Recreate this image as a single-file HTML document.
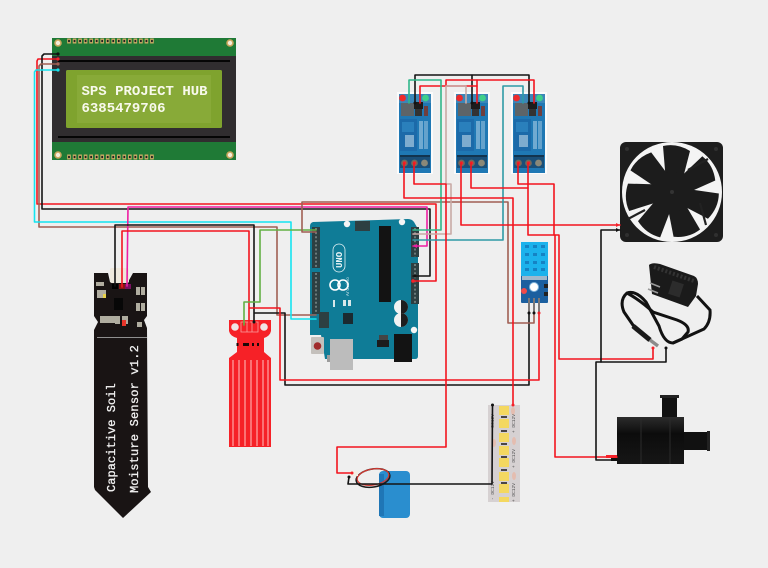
<!DOCTYPE html>
<html><head><meta charset="utf-8"><style>
html,body{margin:0;padding:0;background:#efefef;width:768px;height:568px;overflow:hidden}
svg{display:block}
text{font-family:"Liberation Mono",monospace}
.w{fill:none;stroke-width:1.6;stroke-linejoin:round;stroke-linecap:round}
.r{stroke:#f3141e}.k{stroke:#141414}.b{stroke:#a05f54}.c{stroke:#14e4f0}.p{stroke:#ee1ea2}.g{stroke:#62b044}
</style></head><body>
<svg width="768" height="568" viewBox="0 0 768 568" xmlns="http://www.w3.org/2000/svg">
<defs>
<g id="relay">
<rect x="0" y="0" width="36" height="82" fill="#fbfbfb"/>
<rect x="2" y="2" width="32" height="79" fill="#1f78b4"/>
<rect x="2" y="2" width="32" height="9" fill="#3b86b8"/>
<circle cx="5.5" cy="6" r="3.4" fill="#ee2a2a"/>
<circle cx="28.5" cy="6" r="3.4" fill="#3fd08a"/>
<rect x="4" y="11" width="13" height="13" fill="#5d6468"/>
<rect x="17" y="10" width="9" height="7" fill="#1c1c1c"/>
<rect x="18" y="17" width="7" height="7" fill="#333"/>
<rect x="27" y="14" width="4" height="10" fill="#6f3f3f"/>
<rect x="3" y="27" width="17" height="32" fill="#1c6aa9"/>
<rect x="5" y="30" width="12" height="10" fill="#2a80bc"/>
<rect x="8" y="43" width="9" height="12" fill="#cfe2ee" opacity=".55"/>
<rect x="22" y="29" width="4" height="28" fill="#9cc5e0" opacity=".65"/>
<rect x="27" y="29" width="4" height="28" fill="#9cc5e0" opacity=".55"/>
<rect x="3" y="63" width="30" height="2" fill="#12344f"/>
<rect x="3" y="65" width="30" height="11" fill="#1a4f78"/>
<circle cx="7.5" cy="71" r="3.4" fill="#6d6a5e"/><circle cx="17.5" cy="71" r="3.4" fill="#6d6a5e"/><circle cx="27.5" cy="71" r="3.4" fill="#8a8878"/>
<circle cx="7.5" cy="71" r="1.8" fill="#ee2a2a"/><circle cx="17.5" cy="71" r="1.8" fill="#ee2a2a"/>
</g>
<linearGradient id="pg" x1="0" y1="0" x2="0" y2="1"><stop offset="0" stop-color="#2c2c2c"/><stop offset=".35" stop-color="#0c0c0c"/><stop offset="1" stop-color="#161616"/></linearGradient>
</defs>
<rect width="768" height="568" fill="#efefef"/>

<!-- LCD -->
<rect x="52" y="38" width="184" height="122" fill="#1f7a36"/>
<rect x="52" y="56" width="184" height="86" fill="#302d2f"/>
<rect x="66" y="70" width="156" height="58" rx="1.5" fill="#7fa32e"/>
<rect x="77" y="75" width="134" height="48" fill="#88aa38"/>
<rect x="58" y="60" width="172" height="2" fill="#050505"/>
<rect x="58" y="136" width="172" height="2" fill="#050505"/>
<g fill="#f5eeda" stroke="#c9a55c" stroke-width="1.6"><circle cx="58" cy="43" r="3"/><circle cx="230" cy="43" r="3"/><circle cx="58" cy="155" r="3"/><circle cx="230" cy="155" r="3"/></g>
<g stroke="#cfae66" stroke-width="5" stroke-dasharray="3.6 1.93" fill="none"><path d="M67.2 41H154"/><path d="M67.2 157H154"/></g>
<g stroke="#222" stroke-width="2.2" stroke-dasharray="1.8 3.73" fill="none"><path d="M68.100 41H154"/><path d="M68.100 157H154"/></g>
<text x="81.5" y="95" font-size="14" font-weight="bold" fill="#f8f9ec">SPS PROJECT HUB</text>
<text x="81.5" y="112" font-size="14" font-weight="bold" fill="#f8f9ec">6385479706</text>

<!-- Relays -->
<use href="#relay" x="397" y="92"/>
<use href="#relay" x="454" y="92"/>
<use href="#relay" x="511" y="92"/>

<!-- Fan -->
<rect x="620" y="142" width="103" height="100" rx="6" fill="#1d1d1d"/>
<circle cx="672" cy="192" r="50" fill="#f4f4f4"/>
<g fill="#1c1c1c">
<path d="M-6-10L-9-46Q5-49 18-41L11-14Z" transform="translate(672 192)"/>
<path d="M-6-10L-9-46Q5-49 18-41L11-14Z" transform="translate(672 192) rotate(51.4)"/>
<path d="M-6-10L-9-46Q5-49 18-41L11-14Z" transform="translate(672 192) rotate(102.9)"/>
<path d="M-6-10L-9-46Q5-49 18-41L11-14Z" transform="translate(672 192) rotate(154.3)"/>
<path d="M-6-10L-9-46Q5-49 18-41L11-14Z" transform="translate(672 192) rotate(205.7)"/>
<path d="M-6-10L-9-46Q5-49 18-41L11-14Z" transform="translate(672 192) rotate(257.1)"/>
<path d="M-6-10L-9-46Q5-49 18-41L11-14Z" transform="translate(672 192) rotate(308.6)"/>
<circle cx="672" cy="192" r="20"/>
</g>
<circle cx="672" cy="192" r="2" fill="#333"/>
<g stroke="#222" stroke-width="2.2"><path d="M688 170L708 159"/><path d="M700 203L706 225"/><path d="M645 210L628 219"/></g>
<g fill="#303030"><circle cx="627" cy="149" r="2"/><circle cx="716" cy="149" r="2"/><circle cx="627" cy="235" r="2"/><circle cx="716" cy="235" r="2"/></g>

<!-- Adapter -->
<path d="M649 265Q652 262 660 264L694 276Q698 278 698 284L696 296L688 307L652 294Z" fill="#1a1a1a"/>
<path d="M654 267L694 281" stroke="#333" stroke-width="4" stroke-dasharray="2 2"/>
<rect x="670" y="282" width="12" height="14" fill="#2c2c2c" transform="rotate(18 676 289)"/>
<path d="M650 283L660 287M648 289L658 293" stroke="#9a9a9a" stroke-width="1.6"/>
<path d="M697 296L710 310Q711 322 704 329L673 343Q664 343 659 326L646 302Q636 290 627 293Q619 300 624 312L635 328" fill="none" stroke="#121212" stroke-width="3"/>
<path d="M627 293Q640 300 653 312L677 320Q690 325 688 332L682 339L673 343" fill="none" stroke="#121212" stroke-width="3"/>
<path d="M633 326L650 340" stroke="#1a1a1a" stroke-width="5"/>
<path d="M650 340L658 346" stroke="#8b8b8b" stroke-width="3.4"/>

<!-- Pump -->
<rect x="662" y="395" width="15" height="23" fill="#111"/>
<rect x="660" y="395" width="19" height="3" fill="#222"/>
<rect x="684" y="432" width="24" height="18" fill="#111"/>
<rect x="707" y="431" width="3" height="20" fill="#222"/>
<rect x="617" y="417" width="67" height="47" fill="url(#pg)"/>
<path d="M641 417V464M670 417V464" stroke="#2b2b2b" stroke-width="1"/>

<!-- Moisture sensor -->
<path d="M94 273H108L110 282H128L133 273H147L147 316L144 320L147 328L148 487L151 492L123 518L95 490L94 487V330L98 322L94 316Z" fill="#191414"/>
<rect x="110" y="268" width="19" height="15" rx="2" fill="#eee8dc"/>
<rect x="97" y="337" width="50" height="1" fill="#8f8f8f"/>
<g fill="#b0ada0"><rect x="96" y="282" width="8" height="4"/><rect x="97" y="290" width="9" height="8"/><rect x="136" y="287" width="4" height="8"/><rect x="141" y="287" width="4" height="8"/><rect x="136" y="303" width="4" height="8"/><rect x="141" y="303" width="4" height="8"/><rect x="100" y="316" width="8" height="7"/><rect x="108" y="316" width="8" height="7"/><rect x="115" y="316" width="5" height="8"/><rect x="122" y="316" width="6" height="8"/><rect x="137" y="322" width="5" height="5"/></g>
<rect x="103" y="294" width="3" height="4" fill="#e8d24a"/>
<rect x="114" y="298" width="9" height="12" fill="#070707"/>
<rect x="122" y="320" width="4" height="6" fill="#e8352a"/>
<rect x="112" y="284" width="6" height="5" fill="#000"/><rect x="119" y="284" width="6" height="5" fill="#8a1414"/><rect x="125" y="284" width="6" height="5" fill="#7a1060"/>
<g transform="translate(115 492) rotate(-90)"><text font-size="12" fill="#f2f2f2" stroke="#f2f2f2" stroke-width=".3" letter-spacing=".05">Capacitive Soil</text></g>
<g transform="translate(138 493) rotate(-90)"><text font-size="12" fill="#f2f2f2" stroke="#f2f2f2" stroke-width=".3" letter-spacing=".2">Moisture Sensor v1.2</text></g>

<!-- Water sensor -->
<path d="M229 320H271V331Q270 336 264 338V352L271 358V447H229V358L237 352V338Q230 336 229 331Z" fill="#f62127"/>
<circle cx="235" cy="327" r="3.8" fill="#f0e4e4"/><circle cx="264" cy="327" r="3.8" fill="#f0e4e4"/>
<path d="M241 322H258V332H241ZM247 322V332M252 322V332" fill="none" stroke="#f9a0a0" stroke-width=".8"/>
<g fill="#1a0808"><rect x="236.500" y="343" width="2" height="3"/><rect x="243" y="343" width="6" height="3"/><rect x="252" y="343" width="2" height="3"/><rect x="257" y="343" width="2" height="3"/></g>
<g stroke="#ffb4b4" stroke-width="1.1"><path d="M233 360V446M239 360V446M245 360V446M251 360V446M257 360V446M263 360V446M268 360V446"/></g>

<!-- Arduino -->
<path d="M313 222L408 219Q412 219 414 222L418 229V356Q418 359 415 359H325L321 335H310V226Q310 223 313 222Z" fill="#0f7c97"/>
<path d="M310 335H321V359H310Z" fill="#efefef"/>
<circle cx="347" cy="224" r="3.2" fill="#f5f5f5"/><circle cx="402" cy="222" r="3.2" fill="#f5f5f5"/><circle cx="414" cy="330" r="3.2" fill="#f5f5f5"/>
<rect x="312" y="227" width="8" height="41" fill="#2d3f42"/>
<rect x="312" y="272" width="8" height="42" fill="#2d3f42"/>
<rect x="411" y="227" width="8" height="30" fill="#2d3f42"/>
<rect x="411" y="263" width="8" height="41" fill="#2d3f42"/>
<g stroke="#6a7a7a" stroke-width="2" stroke-dasharray="2 2.1"><path d="M316 228V268M316 273V314M415 228V257M415 264V304"/></g>
<rect x="355" y="221" width="15" height="10" fill="#2d3f42"/>
<rect x="319" y="312" width="10" height="16" fill="#2d3f42"/>
<rect x="379" y="226" width="12" height="76" fill="#131313"/>
<g fill="none" stroke="#fff" stroke-width="1.6"><circle cx="335" cy="285" r="5"/><circle cx="343" cy="285" r="5"/></g>
<text transform="translate(342 268) rotate(-90)" font-size="9" font-weight="bold" fill="#e8f4f6">UNO</text>
<rect x="333" y="244" width="12" height="28" rx="6" fill="none" stroke="#e8f4f6" stroke-width=".8"/>
<text transform="translate(349 296) rotate(-90)" font-size="4.500" fill="#d5e9ee">Arduino</text>
<rect x="333" y="300" width="2" height="7" fill="#d8e8ea"/><rect x="343" y="300" width="3" height="6" fill="#d8e8ea"/><rect x="348" y="300" width="3" height="6" fill="#d8e8ea"/>
<rect x="343" y="313" width="10" height="11" fill="#1b2a30"/>
<circle cx="401" cy="307" r="7" fill="#f2f2f2"/><path d="M401 300A7 7 0 0 1 401 314Z" fill="#1e1e1e"/>
<circle cx="401" cy="320" r="7" fill="#f2f2f2"/><path d="M401 313A7 7 0 0 1 401 327Z" fill="#1e1e1e"/>
<rect x="377" y="340" width="12" height="7" fill="#1c1c1c"/><rect x="379" y="335" width="9" height="5" fill="#444"/>
<rect x="394" y="334" width="18" height="28" fill="#131313"/>
<rect x="311" y="337" width="13" height="17" rx="1" fill="#c4c0bc"/>
<circle cx="317.500" cy="346" r="3.8" fill="#a02c2c"/>
<rect x="330" y="339" width="23" height="31" fill="#bcbcbc"/>
<rect x="327" y="355" width="3" height="7" fill="#9c9c9c"/>

<!-- DHT -->
<rect x="521" y="242" width="27" height="61" rx="1" fill="#1b5f9f"/>
<rect x="521" y="242" width="27" height="34" fill="#1cb2ec"/>
<g fill="#1583c4"><rect x="525" y="245" width="4" height="3"/><rect x="533" y="245" width="4" height="3"/><rect x="541" y="245" width="4" height="3"/><rect x="525" y="253" width="4" height="3"/><rect x="533" y="253" width="4" height="3"/><rect x="541" y="253" width="4" height="3"/><rect x="525" y="261" width="4" height="3"/><rect x="533" y="261" width="4" height="3"/><rect x="541" y="261" width="4" height="3"/><rect x="525" y="268" width="4" height="3"/><rect x="533" y="268" width="4" height="3"/><rect x="541" y="268" width="4" height="3"/></g>
<rect x="522" y="276" width="25" height="4" fill="#9fb8cc"/>
<circle cx="534" cy="287" r="4.5" fill="#fff" stroke="#7fb4dc" stroke-width="1"/>
<circle cx="524" cy="291" r="3" fill="#ee4a4a"/>
<rect x="544" y="284" width="4" height="4" fill="#222"/><rect x="544" y="292" width="4" height="4" fill="#222"/>
<path d="M529 298V313M534 298V313M539 298V313" stroke="#7c7878" stroke-width="2"/>

<!-- LED strip -->
<rect x="488" y="405" width="32" height="97" fill="#d6d1d2"/>
<g fill="#f4d860"><rect x="499" y="406" width="10" height="9"/><rect x="499" y="419" width="10" height="9"/><rect x="499" y="433" width="10" height="9"/><rect x="499" y="446" width="10" height="9"/><rect x="499" y="458" width="10" height="9"/><rect x="499" y="472" width="10" height="9"/><rect x="499" y="484" width="10" height="9"/><rect x="499" y="497" width="10" height="5"/></g>
<g fill="#4a4646"><rect x="501" y="416" width="6" height="2"/><rect x="501" y="430" width="6" height="2"/><rect x="501" y="443" width="6" height="2"/><rect x="501" y="456" width="6" height="2"/><rect x="501" y="469" width="6" height="2"/><rect x="501" y="482" width="6" height="2"/></g>
<g fill="#e8b9a8" opacity=".8"><ellipse cx="513" cy="411" rx="2" ry="4"/><ellipse cx="514" cy="441" rx="2" ry="4"/><ellipse cx="494" cy="443" rx="2" ry="4"/><ellipse cx="514" cy="476" rx="2" ry="4"/></g>
<text transform="translate(515 433) rotate(-90)" font-size="4.500" fill="#555">+ DC12V</text>
<text transform="translate(515 468) rotate(-90)" font-size="4.500" fill="#555">+ DC12V</text>
<text transform="translate(515 502) rotate(-90)" font-size="4.500" fill="#555">+ DC12V</text>
<text transform="translate(494 433) rotate(-90)" font-size="4.500" fill="#555">- DC12V</text>
<text transform="translate(494 500) rotate(-90)" font-size="4.500" fill="#555">- DC12V</text>

<!-- Battery -->
<rect x="379" y="471" width="31" height="47" rx="4" fill="#2a8ecf"/>
<rect x="379" y="474" width="5" height="42" fill="#1f76b6"/>
<ellipse cx="373" cy="478" rx="17" ry="9" fill="none" stroke="#1a1a1a" stroke-width="1.6" transform="rotate(-10 373 478)"/>
<ellipse cx="373" cy="477" rx="16" ry="8" fill="none" stroke="#d23a32" stroke-width="1.2" transform="rotate(-10 373 477)"/>
<rect x="350" y="471" width="8" height="5" fill="#f3efe4"/>

<!-- Wires -->
<polyline class="w r" points="57,59 38,59 37,61 37,204 436,204 436,281 413,281"/>
<polyline class="w k" points="57,54 44,54 42,56 42,209 430,209 430,276 413,276"/>
<polyline class="w b" points="57,64 41,64 39,66 39,227 277,227 277,315 316,315"/>
<polyline class="w c" points="57,70 36,70 34.500,72 34.500,222 291,222 291,319 316,319"/>
<polyline class="w p" points="127,286 128,207 427,207 427,246 413,246"/>
<polyline class="w r" points="122,287 122,231 249,231 249,322"/>
<polyline class="w k" points="115,286 115,225 254,225 254,322"/>
<polyline class="w g" points="244,325 244,302 260,302 260,230 316,230"/>
<polyline class="w k" points="255,313 285,313 285,385 529,385 529,313"/>
<polyline class="w r" points="250,308 280,308 280,380 539,380 539,313"/>
<polyline class="w b" points="534,313 534,323 508,323 508,202 302,202 302,232 316,232"/>
<polyline class="w k" points="415,103 415,75 529,75 529,103"/>
<polyline class="w k" points="472,75 472,103"/>
<polyline class="w r" points="420,103 420,86 477,86 477,103"/>
<polyline class="w r" points="446,86 446,80 534,80 534,103"/>
<polyline class="w r" points="477,86 477,80"/>
<polyline class="w" stroke="#2fb78a" points="409,103 409,80 441,80 441,230 413,230"/>
<polyline class="w" stroke="#c9aaa6" points="466,103 466,86 446,86 446,184 451,184 451,234 413,234"/>
<polyline class="w" stroke="#2e9aa6" points="523,103 523,86 503,86 503,240 413,240"/>
<polyline class="w r" points="404,163 404,198 513,198 513,405"/>
<polyline class="w r" points="414,163 414,184 446,184 446,447 337,447 337,473 352,473"/>
<polyline class="w r" points="461,163 461,225 620,225"/>
<polyline class="w r" points="471,163 471,188 528,188"/>
<polyline class="w r" points="518,163 518,184 554,184 554,235"/>
<polyline class="w r" points="528,163 528,235 559,235 559,359 653,359 653,348"/>
<polyline class="w r" points="555,235 555,457 617,457"/>
<polyline class="w k" points="666,348 666,362 596,362 596,460 617,460"/>
<polyline class="w k" points="601,362 601,230 620,230"/>
<polyline class="w k" points="349,477 348,484 492,484 492.500,405"/>

<!-- wire ends -->
<g fill="#111"><circle cx="58" cy="54" r="1.600"/><circle cx="415" cy="103" r="1.500"/><circle cx="472" cy="103" r="1.500"/><circle cx="529" cy="103" r="1.500"/><circle cx="254" cy="322" r="1.500"/><circle cx="529" cy="313" r="1.500"/><circle cx="534" cy="313" r="1.500"/><circle cx="492.500" cy="405" r="1.500"/><circle cx="666" cy="348" r="1.500"/><circle cx="349" cy="477" r="1.500"/><circle cx="415" cy="276" r="1.500"/><path d="M620 230l-4-2v4zM617 460v-2h-6v3h6z"/></g>
<g fill="#f5222a"><circle cx="58" cy="59" r="1.600"/><circle cx="413" cy="281" r="1.800"/><circle cx="513" cy="405" r="1.500"/><circle cx="539" cy="313" r="1.500"/><circle cx="653" cy="348" r="1.500"/><circle cx="352" cy="473" r="1.500"/><path d="M620 225l-4-2v4zM617 458v-3h-11v3z"/></g>
<circle cx="58" cy="64" r="1.600" fill="#a05f54"/><circle cx="58" cy="70" r="1.600" fill="#14e4f0"/>
<path d="M413 246l4-2v4z" fill="#ee1ea2"/>
</svg>
</body></html>
